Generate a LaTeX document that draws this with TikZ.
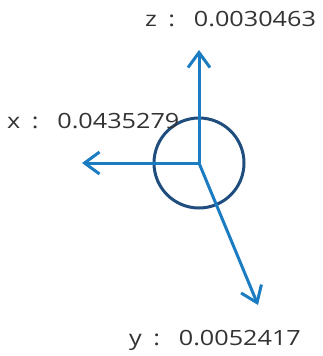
\documentclass[tikz,border=0pt]{standalone}
\usepackage{fontspec}
\setmainfont{Open Sans}
\usetikzlibrary{arrows.meta}
\definecolor{arrowblue}{HTML}{1C7CC2}
\definecolor{circblue}{HTML}{1F4E7E}
\definecolor{txtgray}{HTML}{333333}
\tikzset{
  axis/.style={draw=arrowblue, line width=3pt, -{Straight Barb[length=15pt,width=22pt,line width=3pt]}},
  lbl/.style={anchor=base west, inner sep=0pt, text=txtgray, font=\fontsize{21}{25}\selectfont, xscale=1.2, transform shape}
}
\begin{document}
\begin{tikzpicture}[x=1pt,y=-1pt]
\useasboundingbox (0,0) rectangle (323,356);
\coordinate (O) at (199,163);
\coordinate (zt) at (199,50);
\coordinate (xt) at (82,163);
\coordinate (yt) at (258,305);
\node[draw=circblue, line width=3pt, circle, minimum size=90pt, inner sep=0pt] (c) at (O) {};
\draw[axis] (O) -- (zt);
\draw[axis] (O) -- (xt);
\draw[axis] (O) -- (yt);
\node[lbl] (zl) at (145,27) {z\hspace{0.45em}:\hspace{0.75em}0.0030463};
\node[lbl] (xl) at (7,128) {x\hspace{0.45em}:\hspace{0.75em}0.0435279};
\node[lbl] (yl) at (129,345) {y\hspace{0.45em}:\hspace{0.75em}0.0052417};
\end{tikzpicture}
\end{document}
